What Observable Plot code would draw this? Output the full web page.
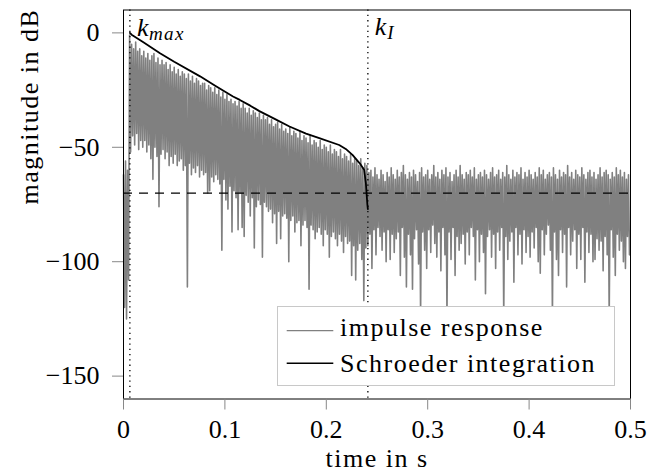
<!DOCTYPE html>
<html>
<head>
<meta charset="utf-8">
<script src="https://cdn.jsdelivr.net/npm/d3@7"></script>
<script src="https://cdn.jsdelivr.net/npm/@observablehq/plot@0.6"></script>
<style>
  body { margin: 0; background: #fff; }
  #wrap { position: relative; width: 650px; height: 473px; font-family: "Liberation Serif", "DejaVu Serif"; }
  #legend { position: absolute; left: 277px; top: 306px; width: 338px; height: 80px; }
</style>
</head>
<body>
<div id="wrap"></div>
<script>
// ---- data ----
const binStep = 0.002;           // seconds per bin of the impulse response envelope
// upper value of the impulse response in each bin (dB)
const irPeak = [
  -62, -56, -60, -1, -5, -7, -4, -8, -7, -10,
  -8, -11, -9, -12, -10, -9, -13, -11, -14, -12,
  -14, -13, -16, -14, -17, -15, -18, -16, -19, -17,
  -18, -20, -18, -21, -19, -22, -20, -21, -23, -22,
  -22, -25, -23, -24, -26, -24, -27, -25, -28, -26,
  -29, -27, -30, -29, -31, -30, -32, -30, -33, -31,
  -33, -35, -33, -36, -34, -35, -37, -35, -38, -36,
  -38, -37, -40, -38, -41, -40, -39, -42, -40, -43,
  -42, -44, -41, -45, -43, -44, -46, -43, -47, -45,
  -46, -48, -45, -49, -47, -48, -50, -47, -51, -49,
  -50, -52, -49, -53, -51, -52, -54, -51, -55, -53,
  -54, -56, -53, -57, -55, -56, -58, -55, -59, -57,
  -58, -61, -60, -63, -59, -62, -64, -60, -62, -65,
  -61, -63, -59, -62, -64, -60, -63, -61, -58, -62,
  -64, -61, -63, -60, -62, -65, -61, -59, -63, -62,
  -60, -64, -62, -58, -63, -61, -64, -60, -62, -59,
  -63, -61, -65, -62, -60, -63, -58, -62, -64, -61,
  -62, -60, -63, -59, -64, -62, -61, -63, -60, -62,
  -64, -61, -59, -63, -62, -60, -64, -61, -63, -58,
  -62, -64, -60, -63, -61, -62, -59, -64, -61, -63,
  -60, -62, -64, -61, -63, -59, -62, -60, -64, -62,
  -61, -63, -59, -62, -64, -60, -63, -61, -62, -58,
  -63, -61, -64, -60, -62, -63, -59, -62, -64, -61,
  -60, -63, -61, -64, -62, -59, -63, -61, -60, -62,
  -64, -61, -63, -59, -62, -60, -63, -61, -64, -62
];
// lower value of the impulse response in each bin (dB)
const irTrough = [
  -120, -125, -108, -52, -45, -49, -44, -51, -47, -50,
  -47, -52, -49, -55, -64, -50, -54, -76, -53, -51,
  -55, -52, -58, -54, -57, -53, -58, -56, -55, -60,
  -58, -111, -57, -62, -59, -61, -58, -63, -60, -62,
  -61, -70, -69, -63, -65, -62, -64, -66, -95, -64,
  -73, -77, -67, -87, -69, -72, -86, -70, -85, -89,
  -71, -74, -80, -72, -94, -76, -73, -75, -98, -74,
  -76, -78, -77, -83, -79, -92, -78, -90, -80, -79,
  -81, -100, -82, -80, -87, -83, -82, -93, -84, -82,
  -85, -112, -84, -86, -90, -87, -85, -88, -93, -86,
  -88, -98, -89, -87, -90, -93, -88, -91, -96, -89,
  -92, -91, -106, -93, -108, -95, -92, -99, -117, -94,
  -93, -88, -103, -86, -97, -85, -89, -95, -87, -100,
  -86, -99, -88, -96, -90, -87, -106, -85, -98, -111,
  -88, -97, -112, -90, -86, -101, -123, -87, -95, -103,
  -86, -96, -84, -92, -98, -87, -104, -85, -97, -124,
  -87, -99, -85, -106, -89, -95, -92, -88, -101, -87,
  -97, -85, -89, -108, -86, -100, -88, -96, -114, -89,
  -86, -98, -88, -103, -87, -95, -85, -124, -89, -99,
  -91, -87, -109, -85, -97, -88, -101, -86, -96, -89,
  -98, -87, -94, -85, -100, -105, -86, -97, -88, -84,
  -95, -124, -87, -99, -106, -86, -96, -88, -111, -85,
  -97, -91, -86, -103, -88, -99, -85, -109, -87, -96,
  -88, -100, -99, -90, -95, -91, -104, -89, -97, -124,
  -86, -98, -106, -88, -95, -91, -100, -103, -89, -97
];
// Schroeder integration curve
const schroederTime = [0.0063, 0.008, 0.02, 0.036, 0.05, 0.0755, 0.09, 0.108, 0.1147, 0.125, 0.134, 0.15, 0.1637, 0.18, 0.1931, 0.2127, 0.22, 0.2258, 0.234, 0.2373, 0.239, 0.2405, 0.241];
const schroederDb   = [0, -0.8, -4.2, -8.9, -12.6, -19, -23, -27.8, -29.3, -31.8, -34.2, -37.8, -40.9, -44, -46, -49, -51, -53.3, -57.6, -59.8, -65.6, -75, -77];
const kMax = 0.0063;       // s
const kI = 0.241;          // s
const noiseFloor = -70;    // dB
const xTicks = [0, 0.1, 0.2, 0.3, 0.4, 0.5];
const yTicks = [0, -50, -100, -150];
const xLabel = "time in s";
const yLabel = "magnitude in dB";
const seriesNames = ["impulse response", "Schroeder integration"];

// ---- build tables ----
const irData = [];
irPeak.forEach((v, i) => {
  irData.push({t: i * binStep, db: v});
  irData.push({t: i * binStep + binStep / 2, db: irTrough[i]});
});
const schData = schroederTime.map((t, i) => ({t, db: schroederDb[i]}));

const FONT = '"Liberation Serif", "DejaVu Serif"';
const fmtX = d => d === 0 ? "0" : String(d);
const fmtY = d => d < 0 ? "\u2212" + Math.abs(d) : String(d);

const chart = Plot.plot({
  width: 650,
  height: 473,
  marginLeft: 123,
  marginRight: 20,
  marginTop: 9.5,
  marginBottom: 74.5,
  style: {fontFamily: FONT, fontSize: "26px", background: "white", color: "black"},
  x: {domain: [0, 0.5]},
  y: {domain: [-160, 10]},
  marks: [
    Plot.line(irData, {x: "t", y: "db", stroke: "#808080", strokeWidth: 1.6}),
    Plot.ruleY([noiseFloor], {stroke: "black", strokeWidth: 1.3, strokeDasharray: "9,7"}),
    Plot.line(schData, {x: "t", y: "db", stroke: "black", strokeWidth: 1.8}),
    Plot.ruleX([kMax, kI], {stroke: "black", strokeWidth: 1.3, strokeDasharray: "1.3,4"}),
    Plot.frame({stroke: "black", strokeWidth: 1}),
    Plot.axisX({ticks: xTicks, tickFormat: fmtX, tickSize: 11, tickPadding: 9.5, stroke: "#888", fill: "black", fontSize: 26, label: null}),
    Plot.axisY({ticks: yTicks, tickFormat: fmtY, tickSize: 11, tickPadding: 13, stroke: "#888", fill: "black", fontSize: 26, label: null}),
    Plot.text([xLabel], {text: d => d, frameAnchor: "bottom", dy: 68, lineAnchor: "bottom", fontSize: 26, fill: "black"}),
    Plot.text([yLabel], {text: d => d, frameAnchor: "left", dx: -86, rotate: -90, lineAnchor: "bottom", fontSize: 26, fill: "black"}),
    Plot.text([kMax], {x: d => d, text: () => "k", frameAnchor: "top", dy: 25.5, dx: 7, textAnchor: "start", lineAnchor: "bottom", fontStyle: "italic", fontSize: 26, fill: "black"}),
    Plot.text([kMax], {x: d => d, text: () => "max", frameAnchor: "top", dy: 29.5, dx: 19, textAnchor: "start", lineAnchor: "bottom", fontStyle: "italic", fontSize: 19, fill: "black"}),
    Plot.text([kI], {x: d => d, text: () => "k", frameAnchor: "top", dy: 25, dx: 7, textAnchor: "start", lineAnchor: "bottom", fontStyle: "italic", fontSize: 26, fill: "black"}),
    Plot.text([kI], {x: d => d, text: () => "I", frameAnchor: "top", dy: 29, dx: 19.5, textAnchor: "start", lineAnchor: "bottom", fontStyle: "italic", fontSize: 19, fill: "black"})
  ]
});

d3.select(chart).selectAll("text")
  .filter(function () { return this.textContent === xLabel || this.textContent === yLabel; })
  .attr("letter-spacing", "1.5");
d3.select(chart).selectAll("text")
  .filter(function () { return this.textContent === "max"; })
  .attr("letter-spacing", "1.5");

const wrap = document.getElementById("wrap");
wrap.appendChild(chart);

// ---- legend (drawn on top, inside the plot area) ----
const legend = d3.select(wrap).append("div").attr("id", "legend")
  .append("svg").attr("width", 338).attr("height", 80).style("display", "block");
legend.append("rect").attr("x", 0.5).attr("y", 0.5).attr("width", 337).attr("height", 79)
  .attr("fill", "white").attr("stroke", "#c8c8c8").attr("stroke-width", 1);
const legendStrokes = ["#808080", "black"];
const legendWidths = [1.2, 1.5];
seriesNames.forEach((name, i) => {
  const yLine = 24.7 + i * 32.6;
  legend.append("line").attr("x1", 9.7).attr("x2", 56.3).attr("y1", yLine).attr("y2", yLine)
    .attr("stroke", legendStrokes[i]).attr("stroke-width", legendWidths[i]);
  legend.append("text").attr("x", 63).attr("y", 30 + i * 35.7)
    .style("font-family", FONT).attr("font-size", 26).attr("letter-spacing", "1.5")
    .attr("fill", "black").text(name);
});
</script>
</body>
</html>
